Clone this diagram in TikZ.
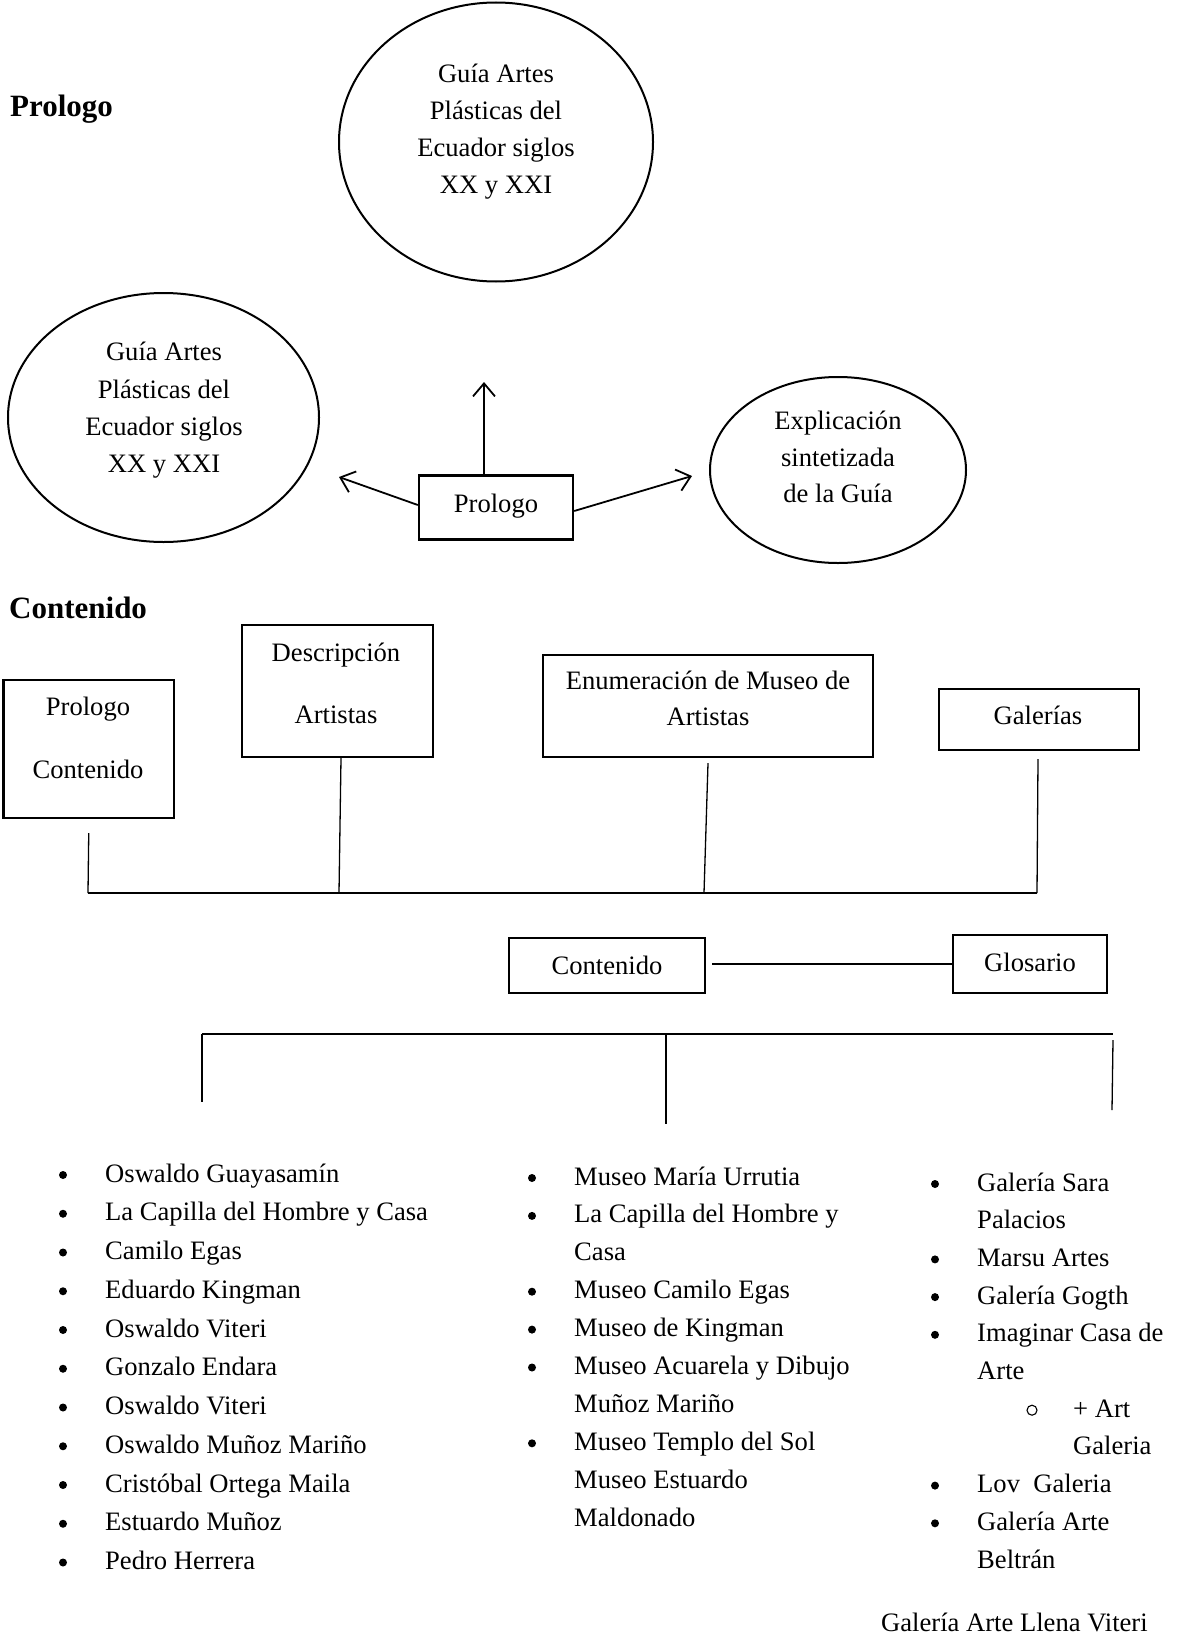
\documentclass[tikz,border=0pt]{standalone}
\usepackage{fontspec}
\setmainfont{Liberation Serif}
\usetikzlibrary{arrows.meta,shapes.geometric}
\begin{document}
\begin{tikzpicture}[x=1pt,y=-1pt,
  every node/.style={font=\fontsize{26.6}{37}\selectfont},
  txt/.style={anchor=base, inner sep=0pt},
  ltxt/.style={anchor=base west, inner sep=0pt},
  head/.style={anchor=base west, inner sep=0pt, font=\fontsize{31}{37}\selectfont\bfseries},
  oval/.style={draw, ellipse, line width=2pt, inner sep=0pt},
  boxnode/.style={draw, rectangle, line width=2.4pt, inner sep=0pt},
  conn/.style={line width=1.3pt},
  arr/.style={line width=1.8pt, -{Straight Barb[length=13pt,width=22pt]}},
  dotb/.style={circle, fill, inner sep=0pt, minimum size=8pt},
  odot/.style={circle, draw, line width=1.1pt, inner sep=0pt, minimum size=10pt}]
\useasboundingbox (0,0) rectangle (1179,1635);

% ---------- Prologo section ----------
\node[head] (h1) at (10,117) {Prologo};

\node[oval, minimum width=314, minimum height=279] (ctop) at (496,142) {};
\node[txt] (ct1) at (496,83) {Guía Artes};
\node[txt] (ct2) at (496,120) {Plásticas del};
\node[txt] (ct3) at (496,157) {Ecuador siglos};
\node[txt] (ct4) at (496,193) {XX y XXI};

\node[oval, minimum width=311, minimum height=249] (cleft) at (163.5,417.5) {};
\node[txt] (cl1) at (164,360) {Guía Artes};
\node[txt] (cl2) at (164,398) {Plásticas del};
\node[txt] (cl3) at (164,435) {Ecuador siglos};
\node[txt] (cl4) at (164,472) {XX y XXI};

\node[oval, minimum width=256, minimum height=186] (cright) at (838,470) {};
\node[txt] (cr1) at (838,429) {Explicación};
\node[txt] (cr2) at (838,466) {sintetizada};
\node[txt] (cr3) at (838,502) {de la Guía};

\node[boxnode, minimum width=154, minimum height=64] (p) at (496,507.5) {};
\node[txt] (pt) at (496,512) {Prologo};

\coordinate (a1) at (484,382);
\coordinate (a2) at (339,477);
\coordinate (a3) at (692,476);
\draw[arr] ([xshift=-12pt]p.north) -- (a1);
\draw[arr] ([yshift=2.5pt]p.west) -- (a2);
\draw[arr] ([yshift=-3.5pt]p.east) -- (a3);

% ---------- Contenido section ----------
\node[head] (h2) at (9,618) {Contenido};

\node[boxnode, minimum width=170.5, minimum height=138] (b1) at (88.75,749) {};
\node[txt] (b1a) at (88,715) {Prologo};
\node[txt] (b1b) at (88,778) {Contenido};

\node[boxnode, minimum width=191, minimum height=132] (b2) at (337.5,691) {};
\node[txt] (b2a) at (336,661) {Descripción};
\node[txt] (b2b) at (336,723) {Artistas};

\node[boxnode, minimum width=330, minimum height=102] (b3) at (708,706) {};
\node[txt] (b3a) at (708,689) {Enumeración de Museo de};
\node[txt] (b3b) at (708,725) {Artistas};

\node[boxnode, minimum width=200, minimum height=61] (b4) at (1039,719.5) {};
\node[txt] (b4a) at (1038,724) {Galerías};

\coordinate (j1) at (88,893);
\coordinate (j2) at (339,893);
\coordinate (j3) at (704,893);
\coordinate (j4) at (1037,893);
\draw[conn] ([yshift=-14pt]b1.south) -- (j1);
\draw[conn] ([xshift=3.5pt]b2.south) -- (j2);
\draw[conn] ([yshift=-5pt]b3.south) -- (j3);
\draw[conn] ([yshift=-8pt,xshift=-1pt]b4.south) -- (j4);
\draw[conn] (j1) -- (j4);

\node[boxnode, minimum width=196, minimum height=55] (c) at (607,965.5) {};
\node[txt] (cta) at (607,974) {Contenido};
\node[boxnode, minimum width=154, minimum height=58] (g) at (1030,964) {};
\node[txt] (gta) at (1030,971) {Glosario};
\draw[conn] ([xshift=6pt]g.west -| c.east) -- (g.west);

\coordinate (k1) at (202,1034);
\coordinate (k2) at (666,1034);
\coordinate (k3) at (1113,1034);
\coordinate (e1) at (202,1102);
\coordinate (e2) at (666,1124);
\coordinate (e3a) at (1113,1040);
\coordinate (e3) at (1112,1110);
\draw[conn] (k1) -- (k3);
\draw[conn] (k1) -- (e1);
\draw[conn] (k2) -- (e2);
\draw[conn] (e3a) -- (e3);

% ---------- Lists ----------
\foreach \t [count=\i] in {Oswaldo Guayasamín, La Capilla del Hombre y Casa, Camilo Egas,
  Eduardo Kingman, Oswaldo Viteri, Gonzalo Endara, Oswaldo Viteri, Oswaldo Muñoz Mariño,
  Cristóbal Ortega Maila, Estuardo Muñoz, Pedro Herrera}{
  \node[ltxt] (la\i) at (105,{1182+38.75*(\i-1)}) {\t};
  \node[dotb] (ba\i) at (63,{1175+38.75*(\i-1)}) {};
}

\foreach \b/\t [count=\i] in {1/Museo María Urrutia, 1/La Capilla del Hombre y, 0/Casa,
  1/Museo Camilo Egas, 1/Museo de Kingman, 1/Museo Acuarela y Dibujo, 0/Muñoz Mariño,
  1/Museo Templo del Sol, 0/Museo Estuardo, 0/Maldonado}{
  \node[ltxt] (lb\i) at (574,{1185+37.9*(\i-1)}) {\t};
  \ifnum\b=1 \node[dotb] (bb\i) at (532,{1178+37.9*(\i-1)}) {}; \fi
}

\foreach \b/\t [count=\i] in {1/Galería Sara, 0/Palacios, 1/Marsu Artes, 1/Galería Gogth,
  1/Imaginar Casa de, 0/Arte, 2/+ Art, 3/Galeria, 1/Lov~~Galeria, 1/Galería Arte, 0/Beltrán}{
  \ifnum\b>1
    \node[ltxt] (lc\i) at (1073,{1191+37.7*(\i-1)}) {\t};
  \else
    \node[ltxt] (lc\i) at (977,{1191+37.7*(\i-1)}) {\t};
  \fi
  \ifnum\b=1 \node[dotb] (bc\i) at (935,{1184+37.7*(\i-1)}) {}; \fi
  \ifnum\b=2 \node[odot] (oc\i) at (1032,{1184+37.7*(\i-1)}) {}; \fi
}

\node[ltxt] (last) at (881,1631) {Galería Arte Llena Viteri};
\end{tikzpicture}
\end{document}
